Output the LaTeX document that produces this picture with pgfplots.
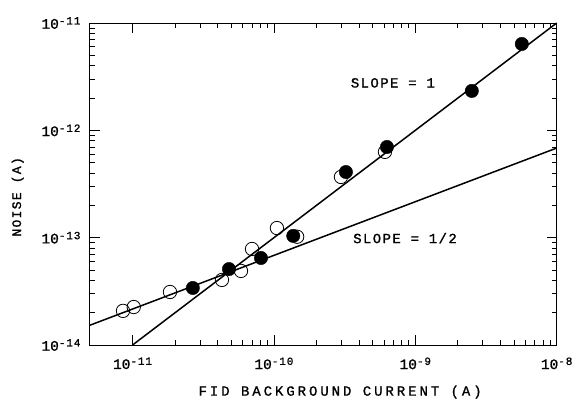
\documentclass[border=0pt]{standalone}
\usepackage{fontspec}
\setmainfont[FakeBold=1.2,AutoFakeBold=1.2]{Liberation Mono}
\newfontfamily\lblfont[LetterSpace=21,FakeBold=1.2]{Liberation Mono}
\newfontfamily\slopefont[LetterSpace=10,FakeBold=1.2]{Liberation Mono}
\newfontfamily\expfont[LetterSpace=8,FakeBold=1.2]{Liberation Mono}
\newfontfamily\numfont[FakeBold=1.2]{Liberation Mono}
\usepackage{pgfplots}
\pgfplotsset{compat=1.18}
\newcommand{\tl}[1]{{\numfont\fontsize{14.5bp}{14.5bp}\selectfont 10}\raisebox{0.8ex}{\expfont\fontsize{11bp}{11bp}\selectfont #1}}
\begin{document}
\begin{tikzpicture}
\begin{axis}[
  scale only axis,
  width=466.7bp, height=322bp,
  xmode=log, ymode=log,
  xmin=5e-12, xmax=1e-8,
  ymin=1e-14, ymax=1e-11,
  axis line style={line width=1bp},
  tick style={black, line width=0.8bp},
  tick align=inside,
  major tick length=10bp,
  minor tick length=5bp,
  xtick={1e-11,1e-10,1e-9,1e-8},
  xticklabels={\tl{-11},\tl{-10},\tl{-9},\tl{-8}},
  ytick={1e-14,1e-13,1e-12,1e-11},
  yticklabels={\tl{-14},\tl{-13},\tl{-12},\tl{-11}},
  xticklabel style={yshift=-9bp},
  yticklabel style={xshift=-6bp},
  xlabel={\lblfont\fontsize{14bp}{14bp}\selectfont FID BACKGROUND CURRENT (A)},
  ylabel={\slopefont\fontsize{13bp}{13bp}\selectfont NOISE (A)},
  xlabel style={at={(axis description cs:0.536,-0.146)}, anchor=center},
  ylabel style={at={(axis description cs:-0.155,0.46)}, anchor=center},
  clip=false,
]
\addplot[black, line width=1.5bp] coordinates {(1e-11,1e-14) (1e-8,1e-11)};
\addplot[black, line width=1.5bp] coordinates {(5e-12,1.53e-14) (1e-8,6.84e-13)};
\addplot[only marks, mark=o, mark size=6.7bp, mark options={line width=0.8bp, black, fill=white}] coordinates {
(8.56e-12,2.08e-14) (1.02e-11,2.26e-14) (1.84e-11,3.12e-14) (4.29e-11,4.04e-14)
(5.85e-11,4.9e-14) (7.0e-11,7.85e-14) (1.05e-10,1.23e-13) (1.46e-10,1.02e-13)
(2.98e-10,3.68e-13) (6.1e-10,6.3e-13)};
\addplot[only marks, mark=*, mark size=6.7bp, mark options={black, fill=black}] coordinates {
(2.67e-11,3.4e-14) (4.81e-11,5.1e-14) (8.1e-11,6.47e-14) (1.37e-10,1.04e-13)
(3.23e-10,4.09e-13) (6.3e-10,7.0e-13) (2.51e-9,2.33e-12) (5.67e-9,6.38e-12)};
\node[font=\slopefont\fontsize{14bp}{14bp}\selectfont] at (axis description cs:0.649,0.814) {SLOPE = 1};
\node[font=\slopefont\fontsize{14bp}{14bp}\selectfont] at (axis description cs:0.675,0.332) {SLOPE = 1/2};
\end{axis}
\pgfresetboundingbox
\path (current axis.south west) ++(-90bp,-54bp) rectangle ++(579bp,399bp);
\end{tikzpicture}
\end{document}
